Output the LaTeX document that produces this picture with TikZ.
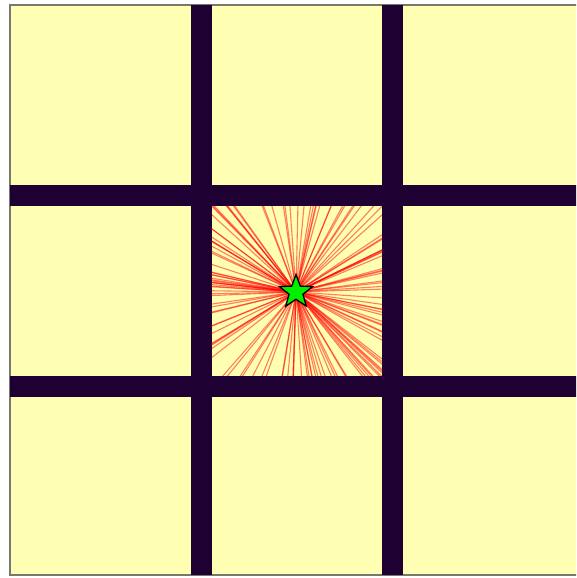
\documentclass[tikz,border=0pt]{standalone}
\usetikzlibrary{shapes.geometric}
\definecolor{cellyellow}{RGB}{255,255,179}
\definecolor{wallpurple}{RGB}{30,0,50}
\definecolor{stargreen}{RGB}{0,240,0}
\definecolor{framegray}{RGB}{120,120,110}
\tikzset{
  wall/.style={fill=wallpurple, draw=none},
  ray/.style={draw=red, opacity=0.5, line width=1.1pt},
  goalstar/.style={star, star points=5, star point ratio=2.4, minimum size=35pt, inner sep=0pt, draw=black, fill=stargreen, line width=1.3pt}
}
\begin{document}
\begin{tikzpicture}[x=1pt,y=-1pt]
\useasboundingbox (0,0) rectangle (576,578);
\clip (0,0) rectangle (576,578);
\fill[white] (0,0) rectangle (576,578);
% board
\fill[cellyellow] (10,5) rectangle (620,575);
\draw[framegray, line width=1.6pt] (10,5) rectangle (620,575);
% walls
\fill[wall] (190.5,5) rectangle (211.5,575);
\fill[wall] (382,5) rectangle (403,575);
\fill[wall] (10,185) rectangle (620,206);
\fill[wall] (10,375.5) rectangle (620,396.5);
% rays
\coordinate (src) at (296,292);
\begin{scope}
  \clip (211.5,206) rectangle (382,375.5);
  \pgfmathsetseed{12345}
  \foreach \i in {1,...,140} {
    \pgfmathsetmacro\ang{rnd*360}
    \draw[ray] (src) -- ++(\ang:300);
  }
\end{scope}
% goal star
\node[goalstar] (star) at (src) {};
\end{tikzpicture}
\end{document}
